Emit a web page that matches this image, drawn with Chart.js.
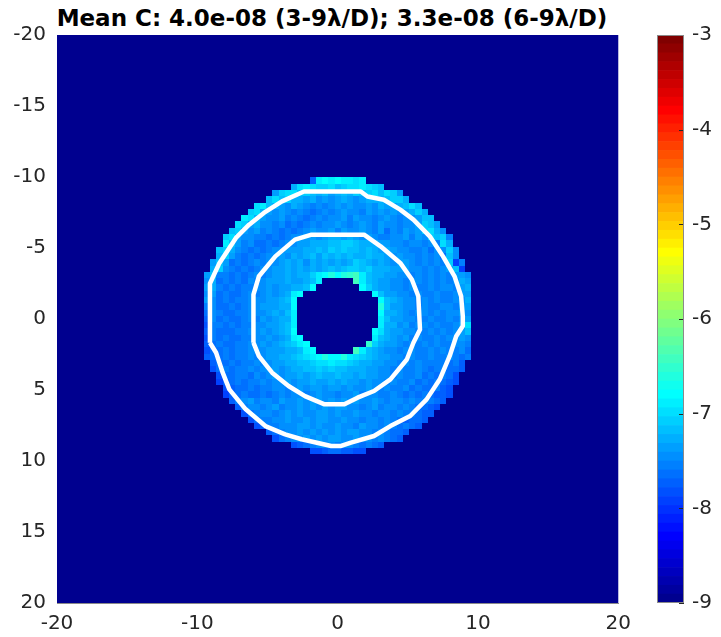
<!DOCTYPE html>
<html>
<head>
<meta charset="utf-8">
<script src="https://cdn.jsdelivr.net/npm/chart.js@4.4.0/dist/chart.umd.min.js"></script>
<style>
body { margin: 0; background: #fff; width: 721px; height: 637px; overflow: hidden; position: relative; }
#title { position: absolute; left: 0; top: 5px; width: 664px; text-align: center; font: bold 23px "DejaVu Sans", sans-serif; line-height: 27px; color: #000; white-space: nowrap; }
#main { position: absolute; left: 0; top: 0; }
#cbar { position: absolute; left: 640px; top: 0; }
</style>
</head>
<body>
<div id="title">Mean C: 4.0e-08 (3-9λ/D); 3.3e-08 (6-9λ/D)</div>
<canvas id="main" width="640" height="637"></canvas>
<canvas id="cbar" width="81" height="637"></canvas>
<script>
// log10 contrast, one char per detector pixel ('.' = no data / masked)
var cellSize = 0.443;      // lambda/D per pixel
var firstRow = -22;        // pixel row of logC[0]
var levelChars = '0123456789abcdefg';
var levelBase = -8.05;
var levelStep = 0.1;
var cRange = [-9, -3];

var logC = [
    "3cdcdccbc",
    "8bcbaab9abbcba9",
    "7abb9a9897898a9ab9ba7",
    "9b9a8878676787678889aa8",
    "bc98768765656767667687789b9",
    "ab8767656545656766576767678a8",
    "cb87667565456566757665676566799",
    "ba7866564545656676567657665667a97",
    "9a76756545456766757667657465767ab86",
    "ab7665545456677678878767655667576a9a5",
    "c975644545667788899aa98887766566565b8",
    "9a8654545667778898a9a9989878766556466a6",
    "8a7545456676878979898988988767665656496",
    "79745456566787868787878a98787677656565a15",
    "8a65454566778787878989aa9a888777665656791",
    "79554545656778788acdedefgc98877665656565776",
    "684545465677787789c.....gc98776656656565687",
    "78545455667677889d.......da8776656556566578",
    "67454456567678cd...........d977665655655677",
    "76454556667789d.............d98766565655668",
    "56445456677788d.............e97766565566577",
    "46544556667879c.............d88765665656676",
    "36454456576788c.............c97766556556567",
    "25545455667789c.............c8867566565567b",
    "35444556676789d............db87766556565679",
    "25454455667678cd...........c987675655656676",
    "34544556676789acd.........fa877656565655665",
    "2445455666777889cd......gc98766566556565564",
    "344545565677889abcdeddecba98776656556556545",
    "3445455656778899abbcbba988776656565555453",
    "24545565667678899a9a998887766565565455443",
    "244554656767787898898878776656556454542",
    "134545565667677877878776766565564545432",
    "2344545566567677677676676565564544532",
    "1345445456566567665667566556545454332",
    "35675665766767767676766765665655543",
    "356656756676767677665675665654432",
    "2456656767667767667665665655433",
    "24556676676776676656656543443",
    "235566677676676657665654543",
    "34566767676767766565443",
    "245667676776676656543",
    "234566656654543",
    "223443322"
];

// white contours at 6 and 9 lambda/D
var outerX = [-9.1, -9.1, -8.42, -7.25, -6.31, -5.26, -3.97, -2.4, 1.65, 2.12, 3.29, 4.46, 5.4, 6.57, 7.51, 8.33, 8.8, 8.92, 8.92, 8.45, 7.98, 7.28, 6.34, 5.17, 3.76, 2.59, 0.95, 0.25, -0.46, -2.57, -3.74, -5.15, -6.55, -7.72, -8.19, -8.66, -9.1];
var outerY = [1.67, -2.5, -3.95, -5.71, -6.64, -7.47, -8.28, -8.98, -8.98, -8.63, -8.4, -7.7, -7.0, -5.82, -4.41, -3.01, -1.6, -0.2, 0.5, 1.21, 2.62, 4.25, 5.66, 6.83, 7.54, 8.24, 8.7, 8.94, 8.94, 8.47, 8.12, 7.54, 6.36, 4.96, 3.78, 2.38, 1.67];
var innerX = [-6.0, -6.0, -5.61, -4.44, -3.04, -1.86, 1.88, 3.06, 4.46, 5.29, 5.75, 5.87, 5.4, 4.93, 3.76, 2.59, 1.42, 0.48, -0.93, -2.33, -3.5, -4.67, -5.61, -6.0];
var innerY = [1.67, -1.72, -3.01, -4.41, -5.59, -5.94, -5.94, -5.12, -3.95, -2.78, -1.6, 0.74, 1.67, 2.85, 4.25, 5.07, 5.54, 6.01, 6.01, 5.43, 4.72, 3.78, 2.62, 1.67];

var xTicks = [-20, -10, 0, 10, 20];
var yTicks = [-20, -15, -10, -5, 0, 5, 10, 15, 20];
var cTicks = [-9, -8, -7, -6, -5, -4, -3];

var axisColor = '#262626';
var tickFont = { family: 'DejaVu Sans', size: 20 };

// matlab jet(64)
function jet(v) {
    var i = Math.floor((v - cRange[0]) / (cRange[1] - cRange[0]) * 64);
    i = Math.max(0, Math.min(63, i));
    var t = (i + 1) / 64;
    function f(c) { return Math.round(255 * Math.max(0, Math.min(1, 1.5 - Math.abs(4 * t - c)))); }
    return 'rgb(' + f(3) + ',' + f(2) + ',' + f(1) + ')';
}

function toPoints(xs, ys) {
    return xs.map(function (x, i) { return { x: x, y: ys[i] }; });
}

var heatmap = {
    id: 'heatmap',
    beforeDatasetsDraw: function (chart) {
        var ctx = chart.ctx, a = chart.chartArea;
        var xs = chart.scales.x, ys = chart.scales.y;
        ctx.save();
        ctx.fillStyle = jet(-Infinity);
        ctx.fillRect(a.left, a.top, a.right - a.left, a.bottom - a.top);
        logC.forEach(function (row, r) {
            var v = firstRow + r;
            var u0 = -Math.floor(row.length / 2);
            for (var k = 0; k < row.length; k++) {
                var idx = levelChars.indexOf(row[k]);
                if (idx < 0) continue;
                var u = u0 + k;
                var x0 = Math.round(xs.getPixelForValue((u - 0.5) * cellSize));
                var x1 = Math.round(xs.getPixelForValue((u + 0.5) * cellSize));
                var y0 = Math.round(ys.getPixelForValue((v - 0.5) * cellSize));
                var y1 = Math.round(ys.getPixelForValue((v + 0.5) * cellSize));
                ctx.fillStyle = jet(levelBase + idx * levelStep);
                ctx.fillRect(x0, Math.min(y0, y1), x1 - x0, Math.abs(y1 - y0));
            }
        });
        ctx.restore();
    }
};

function lineSet(xs, ys) {
    return {
        data: toPoints(xs, ys),
        showLine: true,
        borderColor: '#ffffff',
        borderWidth: 4.5,
        pointRadius: 0,
        tension: 0,
        fill: false,
        borderJoinStyle: 'round'
    };
}

new Chart(document.getElementById('main'), {
    type: 'scatter',
    data: { datasets: [lineSet(outerX, outerY), lineSet(innerX, innerY)] },
    options: {
        responsive: false,
        animation: false,
        layout: { padding: { left: 0, right: 14, top: 35, bottom: 0 } },
        plugins: { legend: { display: false }, tooltip: { enabled: false } },
        scales: {
            x: {
                type: 'linear', min: -20, max: 20,
                afterBuildTicks: function (s) { s.ticks = xTicks.map(function (v) { return { value: v }; }); },
                afterFit: function (s) { s.height = 34; },
                grid: { display: false, drawTicks: false },
                border: { display: true, color: '#8a8a8a', width: 1 },
                ticks: { padding: 9, color: axisColor, font: tickFont, maxRotation: 0 }
            },
            y: {
                type: 'linear', min: -20, max: 20, reverse: true,
                afterBuildTicks: function (s) { s.ticks = yTicks.map(function (v) { return { value: v }; }); },
                afterFit: function (s) { s.width = 57; },
                grid: { display: false, drawTicks: false },
                border: { display: true, color: '#8a8a8a', width: 1 },
                ticks: { padding: 11, color: axisColor, font: tickFont }
            }
        }
    },
    plugins: [heatmap]
});

// colorbar: 64 floating bars over the colour range
var nLevels = 64;
var cStep = (cRange[1] - cRange[0]) / nLevels;
var barSets = [];
for (var i = 0; i < nLevels; i++) {
    var lo = cRange[0] + i * cStep;
    barSets.push({
        data: [[lo, lo + cStep]],
        backgroundColor: jet(lo + cStep / 2),
        borderWidth: 0,
        grouped: false,
        barPercentage: 1,
        categoryPercentage: 1
    });
}

var cbarFrame = {
    id: 'cbarFrame',
    afterDraw: function (chart) {
        var ctx = chart.ctx, a = chart.chartArea, ys = chart.scales.y;
        ctx.save();
        ctx.strokeStyle = axisColor;
        ctx.lineWidth = 1;
        cTicks.forEach(function (v) {
            var py = Math.round(ys.getPixelForValue(v)) + 0.5;
            ctx.beginPath();
            ctx.moveTo(a.right, py);
            ctx.lineTo(a.right - 5, py);
            ctx.stroke();
        });
        ctx.strokeStyle = '#8a8a8a';
        ctx.strokeRect(Math.round(a.left) + 0.5, Math.round(a.top) + 0.5, Math.round(a.right - a.left) - 1, Math.round(a.bottom - a.top) - 1);
        ctx.restore();
    }
};

new Chart(document.getElementById('cbar'), {
    type: 'bar',
    data: { labels: [''], datasets: barSets },
    options: {
        responsive: false,
        animation: false,
        layout: { padding: { left: 17, right: 0, top: 35, bottom: 34 } },
        plugins: { legend: { display: false }, tooltip: { enabled: false } },
        scales: {
            x: { display: false },
            y: {
                position: 'right', min: cRange[0], max: cRange[1],
                afterBuildTicks: function (s) { s.ticks = cTicks.map(function (v) { return { value: v }; }); },
                afterFit: function (s) { s.width = 37; },
                grid: { display: false, drawTicks: false },
                border: { display: false },
                ticks: { padding: 8, color: axisColor, font: tickFont }
            }
        }
    },
    plugins: [cbarFrame]
});
</script>
</body>
</html>
